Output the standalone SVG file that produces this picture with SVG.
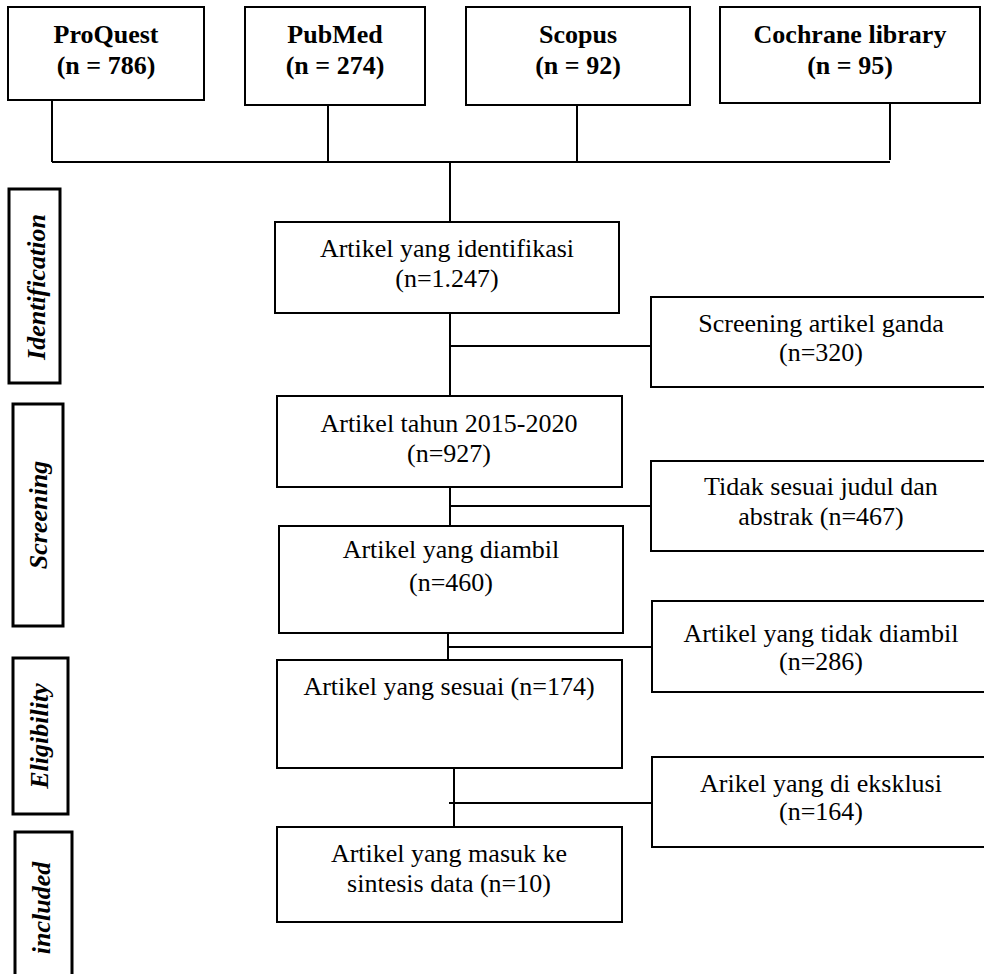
<svg xmlns="http://www.w3.org/2000/svg" width="984" height="974" viewBox="0 0 984 974">
<style>
.box{fill:#fff;stroke:#000;stroke-width:2}
.lbl{fill:#fff;stroke:#000;stroke-width:3}
.t{font-family:"Liberation Serif","Times New Roman",serif;font-size:26px;fill:#000;text-anchor:middle}
.b{font-weight:bold}
.bi{font-weight:bold;font-style:italic}
.c{fill:none;stroke:#000;stroke-width:2}
</style>
<rect width="984" height="974" fill="#fff"/>
<g id="connectors">
<path class="c" d="M52,100V162M328,105V162M577,105V162M890,103V160M52,162H890M450,162V222"/>
<path class="c" d="M450,313V396M450,346H651"/>
<path class="c" d="M450,487V526M450,506H651"/>
<path class="c" d="M448,629V664M448,647H652"/>
<path class="c" d="M454,768V827M449,803H652"/>
</g>
<g id="proquest"><rect class="box" x="8" y="7" width="196" height="93"/><text class="t b" x="106" y="43">ProQuest</text><text class="t b" x="106" y="74">(n = 786)</text></g>
<g id="pubmed"><rect class="box" x="245" y="7" width="180" height="98"/><text class="t b" x="335" y="43">PubMed</text><text class="t b" x="335" y="74">(n = 274)</text></g>
<g id="scopus"><rect class="box" x="466" y="7" width="224" height="98"/><text class="t b" x="578" y="43">Scopus</text><text class="t b" x="578" y="74">(n = 92)</text></g>
<g id="cochrane"><rect class="box" x="720" y="7" width="260" height="96"/><text class="t b" x="850" y="43">Cochrane library</text><text class="t b" x="850" y="74">(n = 95)</text></g>
<g id="lbl-identification"><rect class="lbl" x="9" y="189" width="51" height="194"/><text class="t bi" transform="translate(45,287) rotate(-90)">Identification</text></g>
<g id="lbl-screening"><rect class="lbl" x="13" y="404" width="50" height="222"/><text class="t bi" transform="translate(47,515) rotate(-90)">Screening</text></g>
<g id="lbl-eligibility"><rect class="lbl" x="13" y="658" width="55" height="156"/><text class="t bi" transform="translate(48,736) rotate(-90)">Eligibility</text></g>
<g id="lbl-included"><rect class="lbl" x="15" y="832" width="57" height="160"/><text class="t bi" transform="translate(50,908) rotate(-90)">included</text></g>
<g id="identified"><rect class="box" x="275" y="222" width="344" height="91"/><text class="t" x="447" y="257">Artikel yang identifikasi</text><text class="t" x="447" y="287">(n=1.247)</text></g>
<g id="duplicates"><rect class="box" x="651" y="297" width="340" height="90"/><text class="t" x="821" y="332">Screening artikel ganda</text><text class="t" x="821" y="361">(n=320)</text></g>
<g id="years"><rect class="box" x="277" y="396" width="345" height="91"/><text class="t" x="449" y="432">Artikel tahun 2015-2020</text><text class="t" x="449" y="462">(n=927)</text></g>
<g id="title-abstract"><rect class="box" x="651" y="461" width="340" height="90"/><text class="t" x="821" y="495">Tidak sesuai judul dan</text><text class="t" x="821" y="525">abstrak (n=467)</text></g>
<g id="retrieved"><rect class="box" x="279" y="526" width="344" height="107"/><text class="t" x="451" y="558">Artikel yang diambil</text><text class="t" x="451" y="591">(n=460)</text></g>
<g id="not-retrieved"><rect class="box" x="652" y="601" width="340" height="91"/><text class="t" x="821" y="642">Artikel yang tidak diambil</text><text class="t" x="821" y="670">(n=286)</text></g>
<g id="eligible"><rect class="box" x="277" y="660" width="345" height="108"/><text class="t" x="449" y="695">Artikel yang sesuai (n=174)</text></g>
<g id="excluded"><rect class="box" x="652" y="757" width="340" height="90"/><text class="t" x="821" y="792">Arikel yang di eksklusi</text><text class="t" x="821" y="820">(n=164)</text></g>
<g id="included"><rect class="box" x="277" y="827" width="345" height="95"/><text class="t" x="449" y="862">Artikel yang masuk ke</text><text class="t" x="449" y="892">sintesis data (n=10)</text></g>
</svg>
